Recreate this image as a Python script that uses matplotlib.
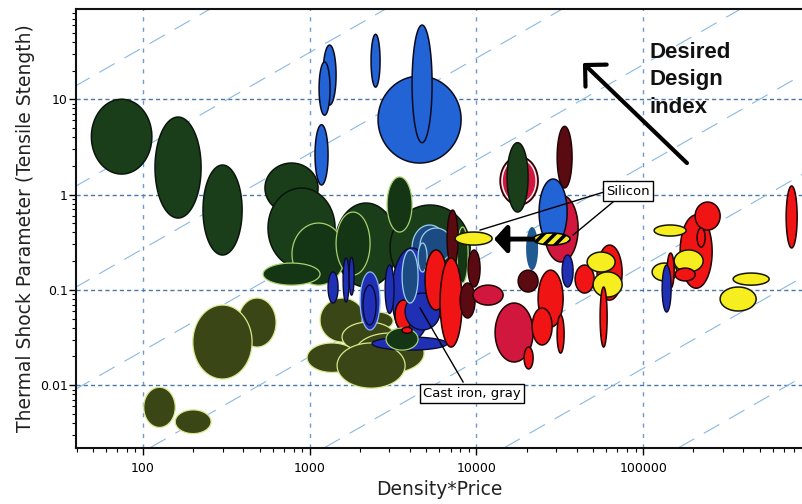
import numpy as np
import matplotlib
matplotlib.use("Agg")
import matplotlib.pyplot as plt
from matplotlib.patches import Polygon
from matplotlib.ticker import LogLocator, FuncFormatter, NullFormatter

# ---------------- data (property ranges) ----------------
groups = [
    # left dark green
    "dg", "dg", "dg",
    # olive lower-left
    "ol", "ol", "ol", "ol",
    # dark green cluster
    "dg", "dg", "dg", "dg", "dgl", "dgl", "dgl", "dgl", "dgl",
    "tl", "tl",
    # olive cluster
    "ol", "ol", "ol", "ol", "ol", "ol",
    # blue cluster
    "db", "db", "db", "db", "dbl", "db", "db", "rd", "db", "db", "dgl", "rd", "tl", "tl",
    # red cluster
    "mr", "rd", "rd", "mr", "mr", "cr", "mr", "mr", "crw", "dg", "cr", "bb", "tl2", "db",
    "cr", "rd", "rd", "rd", "rd", "rd", "rd", "ye", "ye", "rd",
    # right group
    "ye", "rd", "rd", "rd", "ye", "ye", "rd", "rd", "db", "ye", "ye", "rd",
    # top blue
    "bb", "bb", "bb", "bb", "bb", "bb",
    # silicon
    "ye", "yh",
]
x_lo = [
    49, 118, 229,
    372, 199, 101, 156,
    539, 562, 1419, 3034, 783, 1439, 525, 2911, 7656,
    4111, 4592,
    1153, 2061, 1563, 1871, 964, 1459,
    1288, 1585, 1722, 3110, 2005, 2090, 2833, 3250, 3733, 2366, 2871, 3581, 3581, 4467,
    6668, 4920, 6053, 8913, 7980, 9550, 17783, 30479, 13868, 15276, 25468, 23768, 19860, 32659,
    12942, 19320, 23442, 21583, 30479, 39084, 52966, 46132, 50119, 55208,
    113240, 166725, 205116, 210863, 116413, 153462, 155597, 139316, 130017, 346737, 289734, 721107,
    2570, 4111, 2333, 1202, 1138, 1076,
    7447, 21878,
]
x_hi = [
    113, 223, 393,
    628, 451, 156, 256,
    1122, 1419, 3342, 9164, 1629, 2301, 1153, 4111, 8913,
    6668, 7145,
    2148, 3162, 3251, 4853, 1923, 3733,
    1479, 1722, 1845, 5420, 2642, 2500, 3206, 4111, 6053, 6668, 4467, 4111, 4467, 5058,
    7762, 6668, 8204, 10520, 9817, 14454, 23442, 37497, 23442, 20417, 40738, 34995, 23442, 38019,
    21878, 21878, 33113, 28445, 33574, 50816, 74818, 67920, 74818, 60814,
    160000, 259418, 289734, 235505, 181134, 229087, 205116, 153462, 147231, 570164, 476431, 839460,
    8091, 5420, 2642, 1439, 1324, 1288,
    12417, 36475,
]
y_lo = [
    1.64, 0.567, 0.232,
    0.0251, 0.0116, 0.0036, 0.0031,
    0.64, 0.169, 0.107, 0.0995, 0.112, 0.143, 0.112, 0.404, 0.118,
    0.161, 0.196,
    0.0283, 0.0379, 0.0223, 0.0134, 0.0136, 0.0093,
    0.0727, 0.0745, 0.088, 0.0297, 0.0379, 0.0428, 0.0567, 0.0379, 0.038, 0.0233, 0.0233, 0.035, 0.0727, 0.154,
    0.173, 0.0614, 0.0251, 0.107, 0.0506, 0.0692, 0.0948, 1.17, 0.776, 0.655, 0.196, 0.295, 0.161, 0.107,
    0.0175, 0.0148, 0.0406, 0.0264, 0.0217, 0.0925, 0.078, 0.154, 0.084, 0.0251,
    0.124, 0.104, 0.424, 0.281, 0.367, 0.154, 0.124, 0.104, 0.0585, 0.112, 0.06, 0.275,
    2.14, 3.5, 13.4, 8.7, 6.8, 1.26,
    0.295, 0.295,
]
y_hi = [
    10, 6.5, 2.04,
    0.082, 0.0692, 0.0095, 0.0055,
    2.14, 1.17, 0.814, 0.776, 0.502, 0.655, 0.191, 1.53, 0.456,
    0.479, 0.445,
    0.082, 0.0585, 0.0459, 0.0352, 0.0277, 0.0277,
    0.154, 0.216, 0.22, 0.275, 0.154, 0.112, 0.182, 0.078, 0.0925, 0.032, 0.0397, 0.0405, 0.262, 0.31,
    0.688, 0.262, 0.216, 0.262, 0.118, 0.112, 0.161, 5.2, 2.5, 3.5, 0.99, 1.455, 0.456, 0.232,
    0.0727, 0.0251, 0.161, 0.0644, 0.0544, 0.182, 0.295, 0.249, 0.154, 0.107,
    0.191, 0.61, 0.834, 0.445, 0.479, 0.262, 0.169, 0.243, 0.182, 0.15, 0.107, 1.23,
    17.5, 60, 48, 37, 24.6, 5.4,
    0.404, 0.394,
]

# design-index guide lines: y = C * x
guide_ratio = [3.5e-1, 3.1e-2, 2.7e-3, 2.3e-4, 2.0e-5, 1.8e-6, 1.5e-7, 1.35e-8]

x_major = [100, 1000, 10000, 100000]
y_major = [0.01, 0.1, 1, 10]

# annotations (data coordinates)
silicon_label = (81100, 1.088)
silicon_lines = [((58210, 1.062), (10520, 0.424)), ((65920, 0.834), (38019, 0.376))]
silicon_arrow = ((21878, 0.341), (12764, 0.341))
cast_label = (9420, 0.00816)
cast_line = ((8318, 0.0108), (4592, 0.0644))
design_arrow = ((183200, 2.14), (43550, 24.0))
design_text = ["Desired", "Design", "index"]
design_text_pos = [(108600, 27.1), (108600, 14.1), (108600, 7.17)]

# ---------------- styles ----------------
styles = {
    "dg":  dict(fc="#1a3e1a", ec="#0b150b", lw=1.1),
    "dgl": dict(fc="#143614", ec="#a9d070", lw=0.9),
    "ol":  dict(fc="#3a4616", ec="#d8e88c", lw=0.9),
    "bb":  dict(fc="#2263d6", ec="#0a0a1e", lw=1.1),
    "db":  dict(fc="#1f30b4", ec="#0a0a30", lw=1.0),
    "dbl": dict(fc="#1f30b4", ec="#8fb8f0", lw=0.9),
    "tl":  dict(fc="#1c4a82", ec="#9fd0ee", lw=0.9),
    "tl2": dict(fc="#1f5a90", ec="none", lw=0),
    "rd":  dict(fc="#f01414", ec="#1e0000", lw=1.1),
    "cr":  dict(fc="#d2173e", ec="#1e0000", lw=1.1),
    "crw": dict(fc="#d2173e", ec="#1e0000", lw=1.1),
    "mr":  dict(fc="#5a0b12", ec="#1e0000", lw=1.0),
    "ye":  dict(fc="#f6ee1e", ec="#151500", lw=1.1),
    "yh":  dict(fc="#f6ee1e", ec="#151500", lw=1.1),
}

plt.rcParams["hatch.linewidth"] = 2.5

fig = plt.figure(figsize=(8.03, 5.04), dpi=100)
ax = fig.add_axes([0.0946, 0.1111, 0.9054, 0.871])
ax.set_xscale("log")
ax.set_yscale("log")
ax.set_xlim(39.6, 910000)
ax.set_ylim(0.00219, 88.4)


def ellipse_vertices(xlo, xhi, ylo, yhi, shrink_x=0.0, shrink_y=0.0, n=180):
    lx0, lx1 = np.log10(xlo), np.log10(xhi)
    ly0, ly1 = np.log10(ylo), np.log10(yhi)
    cx, cy = (lx0 + lx1) / 2, (ly0 + ly1) / 2
    rx, ry = (lx1 - lx0) / 2 - shrink_x, (ly1 - ly0) / 2 - shrink_y
    t = np.linspace(0, 2 * np.pi, n)
    return np.column_stack([10 ** (cx + rx * np.cos(t)), 10 ** (cy + ry * np.sin(t))])


# guide lines
xs = np.array([10.0, 1e7])
for C in guide_ratio:
    ax.plot(xs, C * xs, color="#8ab9e2", lw=0.8, dashes=(16, 10), zorder=0.6)

# grid
ax.set_axisbelow(True)
ax.grid(axis="y", which="major", color="#4a78a8", lw=1.0, ls=(0, (3, 2.2)), zorder=0.5)
ax.grid(axis="x", which="major", color="#6c9ccc", lw=1.0, ls=(0, (3, 4.5)), zorder=0.5)

# ellipses
z = 2.0
for g, a, b, c, d in zip(groups, x_lo, x_hi, y_lo, y_hi):
    st = styles[g]
    verts = ellipse_vertices(a, b, c, d)
    if g == "yh":
        p = Polygon(verts, closed=True, facecolor=st["fc"], edgecolor="black",
                    lw=st["lw"], hatch="///", zorder=z)
    else:
        p = Polygon(verts, closed=True, facecolor=st["fc"], edgecolor=st["ec"],
                    lw=st["lw"], zorder=z)
    ax.add_patch(p)
    z += 0.01
    if g == "crw":
        ring = Polygon(ellipse_vertices(a, b, c, d, 0.012, 0.021), closed=True,
                       facecolor="none", edgecolor="white", lw=1.0, zorder=z)
        ax.add_patch(ring)
        z += 0.01

# silicon arrow
ax.annotate("", xy=silicon_arrow[1], xytext=silicon_arrow[0],
            arrowprops=dict(arrowstyle="-|>,head_length=0.38,head_width=0.42",
                            lw=3.5, color="black", mutation_scale=20,
                            shrinkA=0, shrinkB=0), zorder=10)

# label lines
for (p0, p1) in silicon_lines:
    ax.plot([p0[0], p1[0]], [p0[1], p1[1]], color="black", lw=1.0, zorder=10)
ax.plot([cast_line[0][0], cast_line[1][0]], [cast_line[0][1], cast_line[1][1]],
        color="black", lw=1.0, zorder=10)

box = dict(boxstyle="square,pad=0.25", fc="white", ec="black", lw=1.0)
ax.text(*silicon_label, "Silicon", ha="center", va="center", fontsize=9.5, bbox=box, zorder=11)
ax.text(*cast_label, "Cast iron, gray", ha="center", va="center", fontsize=9.5, bbox=box, zorder=11)

# desired design index
ax.annotate("", xy=design_arrow[1], xytext=design_arrow[0],
            arrowprops=dict(arrowstyle="->,head_length=0.55,head_width=0.55",
                            lw=3, color="black", mutation_scale=20,
                            shrinkA=0, shrinkB=0), zorder=10)
for s, (tx, ty) in zip(design_text, design_text_pos):
    ax.text(tx, ty, s, fontsize=16, fontweight="bold", family="Liberation Sans",
            ha="left", va="baseline", color="#111111", zorder=10)

# axes formatting
ax.xaxis.set_major_locator(LogLocator(base=10, numticks=20))
ax.yaxis.set_major_locator(LogLocator(base=10, numticks=20))
ax.xaxis.set_minor_locator(LogLocator(base=10, subs=range(2, 10), numticks=50))
ax.yaxis.set_minor_locator(LogLocator(base=10, subs=range(2, 10), numticks=50))
ax.xaxis.set_major_formatter(FuncFormatter(lambda v, _: f"{v:g}" if v in x_major else ""))
ax.yaxis.set_major_formatter(FuncFormatter(lambda v, _: f"{v:g}" if v in y_major else ""))
ax.xaxis.set_minor_formatter(NullFormatter())
ax.yaxis.set_minor_formatter(NullFormatter())
ax.tick_params(which="major", direction="out", length=5, width=1.0, labelsize=9, pad=2)
ax.tick_params(which="minor", direction="out", length=3, width=0.8)
ax.tick_params(axis="y", which="major", pad=1)
ax.tick_params(axis="x", which="major", pad=5)

for side in ["left", "bottom", "top"]:
    ax.spines[side].set_linewidth(1.5)
    ax.spines[side].set_color("#111111")
ax.spines["right"].set_visible(False)

ax.set_xlabel("Density*Price", fontsize=13.5, color="#222222")
ax.set_ylabel("Thermal Shock Parameter (Tensile Stength)", fontsize=13.5, color="#222222")
ax.xaxis.set_label_coords(0.5, -0.073)
ax.xaxis.label.set_va("top")
ax.yaxis.set_label_coords(-0.057, 0.5)

fig.savefig("out.png", dpi=100)
